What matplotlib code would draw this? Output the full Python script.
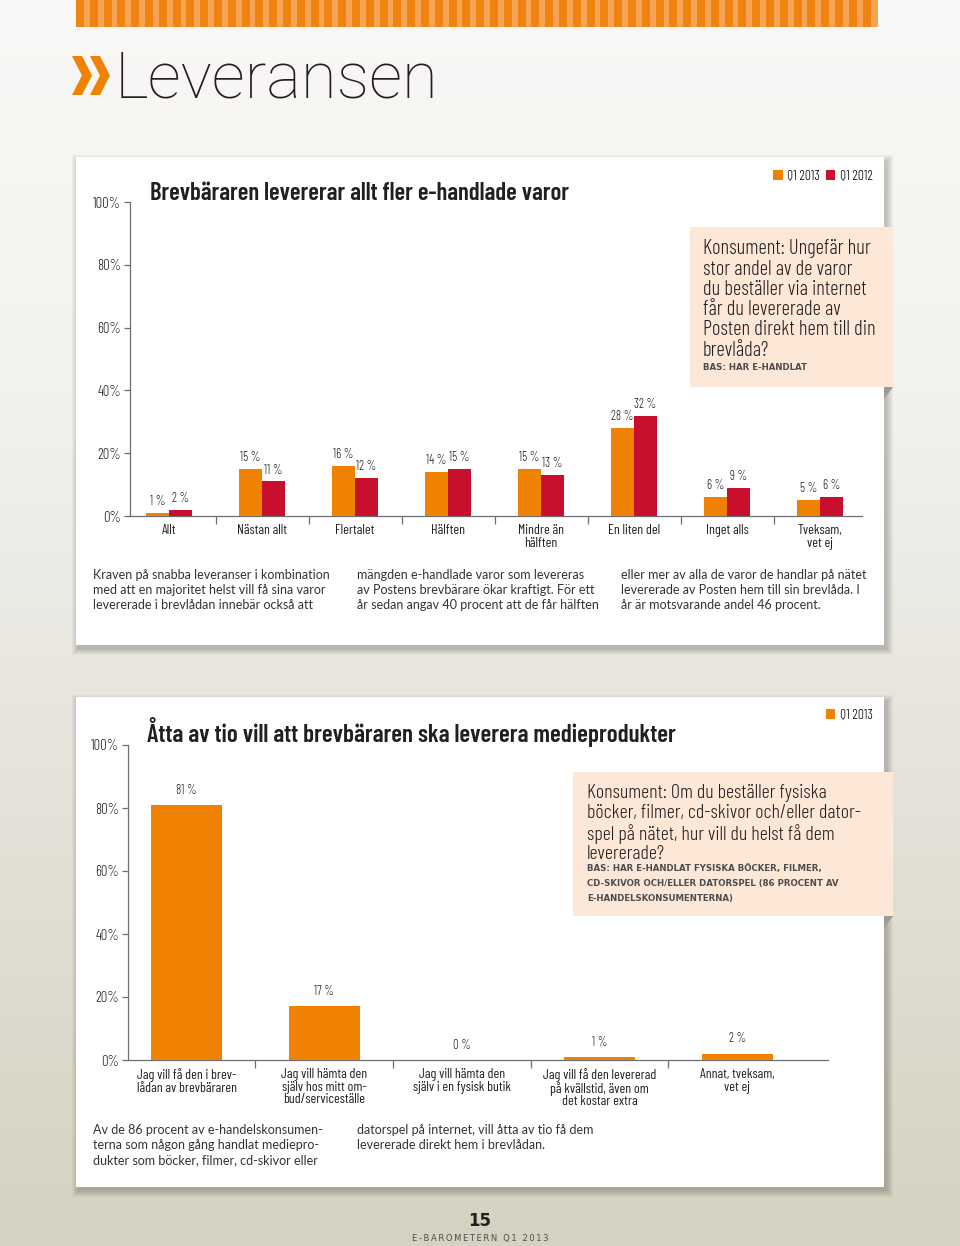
import matplotlib
matplotlib.use('Agg')
import matplotlib.pyplot as plt
from matplotlib.patches import Rectangle, Polygon
from matplotlib.colors import LinearSegmentedColormap
import numpy as np

W, H = 960, 1246

# chart 1 data
cats1 = ['Allt', 'Nästan allt', 'Flertalet', 'Hälften', 'Mindre än\nhälften',
         'En liten del', 'Inget alls', 'Tveksam,\nvet ej']
series1 = ['Q1 2013', 'Q1 2012']
q1_2013 = [1, 15, 16, 14, 15, 28, 6, 5]
q1_2012 = [2, 11, 12, 15, 13, 32, 9, 6]

# chart 2 data
cats2 = ['Jag vill få den i brev-\nlådan av brevbäraren',
         'Jag vill hämta den\nsjälv hos mitt om-\nbud/serviceställe',
         'Jag vill hämta den\nsjälv i en fysisk butik',
         'Jag vill få den levererad\npå kvällstid, även om\ndet kostar extra',
         'Annat, tveksam,\nvet ej']
series2 = ['Q1 2013']
vals2 = [81, 17, 0, 1, 2]

yticks = [0, 20, 40, 60, 80, 100]
ytick_labels = ['0%', '20%', '40%', '60%', '80%', '100%']

title1 = 'Brevbäraren levererar allt fler e-handlade varor'
title2 = 'Åtta av tio vill att brevbäraren ska leverera medieprodukter'
question1 = ['Konsument: Ungefär hur', 'stor andel av de varor', 'du beställer via internet',
             'får du levererade av', 'Posten direkt hem till din', 'brevlåda?']
base1 = ['BAS: HAR E-HANDLAT']
question2 = ['Konsument: Om du beställer fysiska', 'böcker, filmer, cd-skivor och/eller dator-',
             'spel på nätet, hur vill du helst få dem', 'levererade?']
base2 = ['BAS: HAR E-HANDLAT FYSISKA BÖCKER, FILMER,',
         'CD-SKIVOR OCH/ELLER DATORSPEL (86 PROCENT AV',
         'E-HANDELSKONSUMENTERNA)']
body1 = [['Kraven på snabba leveranser i kombination',
          'med att en majoritet helst vill få sina varor',
          'levererade i brevlådan innebär också att'],
         ['mängden e-handlade varor som levereras',
          'av Postens brevbärare ökar kraftigt. För ett',
          'år sedan angav 40 procent att de får hälften'],
         ['eller mer av alla de varor de handlar på nätet',
          'levererade av Posten hem till sin brevlåda. I',
          'år är motsvarande andel 46 procent.']]
body2 = [['Av de 86 procent av e-handelskonsumen-',
          'terna som någon gång handlat mediepro-',
          'dukter som böcker, filmer, cd-skivor eller'],
         ['datorspel på internet, vill åtta av tio få dem',
          'levererade direkt hem i brevlådan.']]

ORANGE = '#ef8200'
RED = '#c8102e'
PEACH = '#fde8d8'
TEXT = '#231f20'
AXIS = '#6d6e71'
COND = ['Barlow Condensed', 'DejaVu Sans']
BODY = ['Lato', 'DejaVu Sans']


def px(x0, y0, x1, y1):
    return [x0 / W, 1 - y1 / H, (x1 - x0) / W, (y1 - y0) / H]


fig = plt.figure(figsize=(9.6, 12.46), dpi=100)
bg = fig.add_axes([0, 0, 1, 1])
cmap = LinearSegmentedColormap.from_list('bg', [(0, '#f9f8f6'), (0.3, '#f3f2ee'),
                                                (0.55, '#e8e6df'), (1, '#d5d2c1')])
bg.imshow(np.linspace(0, 1, 256)[:, None], extent=[0, W, H, 0], aspect='auto', cmap=cmap, zorder=0)
bg.set_xlim(0, W)
bg.set_ylim(H, 0)
bg.axis('off')

# striped band at the top
bg.add_patch(Rectangle((76, 0), 802, 27, fc='#f5a453', lw=0, zorder=1))
for x in np.arange(76, 872, 13.8):
    bg.add_patch(Rectangle((x, 0), 8, 27, fc='#ef8412', lw=0, zorder=1))

# page heading
for x in [72, 90]:
    bg.add_patch(Polygon([(x, 56), (x + 10, 56), (x + 20, 75.5), (x + 10, 95), (x, 95), (x + 10, 75.5)],
                         closed=True, fc=ORANGE, lw=0, zorder=2))
bg.text(115, 97, 'Leveransen', fontsize=47, family=['Roboto', 'DejaVu Sans'], fontweight=100,
        color=TEXT, va='baseline', ha='left', zorder=2)


def card(y0, y1):
    for i in range(1, 8):
        bg.add_patch(Rectangle((76 - i + 3, y0 - i + 5), 808 + 2 * i - 1, y1 - y0 + 2 * i - 2,
                               fc='black', alpha=0.03, lw=0, zorder=2))
    bg.add_patch(Rectangle((76, y0), 808, y1 - y0, fc='white', lw=0, zorder=3))


card(157, 645)
card(697, 1187)

# question boxes
bg.add_patch(Rectangle((690, 227), 203, 160, fc=PEACH, lw=0, zorder=4))
bg.add_patch(Polygon([(884, 387), (893, 387), (884, 399)], closed=True, fc='#9d9b95', lw=0, zorder=4))
bg.add_patch(Rectangle((573, 772), 320, 144, fc=PEACH, lw=0, zorder=4))
bg.add_patch(Polygon([(884, 916), (893, 916), (884, 928)], closed=True, fc='#9d9b95', lw=0, zorder=4))

for i, line in enumerate(question1):
    bg.text(703, 249 + i * 20.2, line, fontsize=14.8, family=COND, fontweight=300, color=TEXT,
            va='center', zorder=5)
for i, line in enumerate(base1):
    bg.text(703, 367 + i * 14.5, line, fontsize=6.2, family='DejaVu Sans', fontweight='bold',
            color='#4d4d4f', va='center', zorder=5)
for i, line in enumerate(question2):
    bg.text(587, 793 + i * 20.3, line, fontsize=14.5, family=COND, fontweight=300, color=TEXT,
            va='center', zorder=5)
for i, line in enumerate(base2):
    bg.text(587, 869 + i * 14.5, line, fontsize=6.2, family='DejaVu Sans', fontweight='bold',
            color='#4d4d4f', va='center', zorder=5)

# chart titles
bg.text(150, 193, title1, fontsize=17.8, family=COND, fontweight=600, color=TEXT, va='center', zorder=5)
bg.text(147, 732, title2, fontsize=18, family=COND, fontweight=600, color=TEXT, va='center', zorder=5)

# body text columns
for cols, y0 in [(body1, 575), (body2, 1130)]:
    for c, lines in enumerate(cols):
        for i, line in enumerate(lines):
            bg.text(93 + c * 264, y0 + i * 15, line, fontsize=9, family=BODY, color='#333333',
                    va='center', zorder=5)

# footer
bg.text(480, 1221, '15', fontsize=12, fontweight='bold', family='DejaVu Sans', color=TEXT,
        ha='center', va='center', zorder=5)
bg.text(480, 1238, '\u2009'.join('E-BAROMETERN Q1 2013'), fontsize=6, family='DejaVu Sans',
        color='#4d4d4f', ha='center', va='center', zorder=5)


def style_axes(ax):
    ax.patch.set_alpha(0)
    for s in ['top', 'right']:
        ax.spines[s].set_visible(False)
    for s in ['left', 'bottom']:
        ax.spines[s].set_color(AXIS)
        ax.spines[s].set_linewidth(0.9)
    ax.set_ylim(0, 100)
    ax.set_yticks(yticks)
    ax.set_yticklabels(ytick_labels, family=COND, fontweight=300, fontsize=10.5, color=TEXT)
    ax.tick_params(axis='y', length=4.5, width=0.9, color=AXIS, pad=2)
    ax.tick_params(axis='x', which='major', length=0, pad=6)
    ax.tick_params(axis='x', which='minor', length=6, width=0.9, color=AXIS, direction='out')


# chart 1
ax1 = fig.add_axes(px(130, 202, 862, 516))
style_axes(ax1)
x1 = np.arange(len(cats1))
bw1 = 0.247
b1 = ax1.bar(x1 - bw1 / 2, q1_2013, bw1, color=ORANGE, zorder=3)
b2 = ax1.bar(x1 + bw1 / 2, q1_2012, bw1, color=RED, zorder=3)
for bars, vals in [(b1, q1_2013), (b2, q1_2012)]:
    for r, v in zip(bars, vals):
        ax1.annotate(f'{v} %', (r.get_x() + r.get_width() / 2, v), xytext=(0, 3.5),
                     textcoords='offset points', ha='center', va='bottom', fontsize=9,
                     family=COND, fontweight=300, color=TEXT)
ax1.set_xlim(-0.42, 7.45)
ax1.set_xticks(x1)
ax1.set_xticklabels(cats1, family=COND, fontsize=10, color=TEXT, linespacing=0.95)
ax1.set_xticks(np.arange(0.5, len(cats1) - 1, 1), minor=True)
ax1.legend([b1, b2], series1, loc='center right', bbox_to_anchor=(885 / W, 1 - 176 / H),
           bbox_transform=fig.transFigure, ncol=2, frameon=False, handlelength=0.7,
           handleheight=0.7, handletextpad=0.3, columnspacing=0.4,
           prop={'family': COND, 'weight': 300, 'size': 10})

# chart 2
ax2 = fig.add_axes(px(128, 745, 828, 1060))
style_axes(ax2)
x2 = np.arange(len(cats2))
b3 = ax2.bar(x2, vals2, 0.515, color=ORANGE, zorder=3)
for r, v in zip(b3, vals2):
    ax2.annotate(f'{v} %', (r.get_x() + r.get_width() / 2, v), xytext=(0, 6),
                 textcoords='offset points', ha='center', va='bottom', fontsize=9,
                 family=COND, fontweight=300, color=TEXT)
ax2.set_xlim(-0.425, 4.66)
ax2.set_xticks(x2)
ax2.set_xticklabels(cats2, family=COND, fontsize=10, color=TEXT, linespacing=0.95)
ax2.set_xticks(np.arange(0.5, len(cats2) - 1, 1), minor=True)
ax2.legend([b3], series2, loc='center right', bbox_to_anchor=(885 / W, 1 - 715 / H),
           bbox_transform=fig.transFigure, frameon=False, handlelength=0.7,
           handleheight=0.7, handletextpad=0.3, prop={'family': COND, 'weight': 300, 'size': 10})

fig.savefig('out.png', dpi=100)
